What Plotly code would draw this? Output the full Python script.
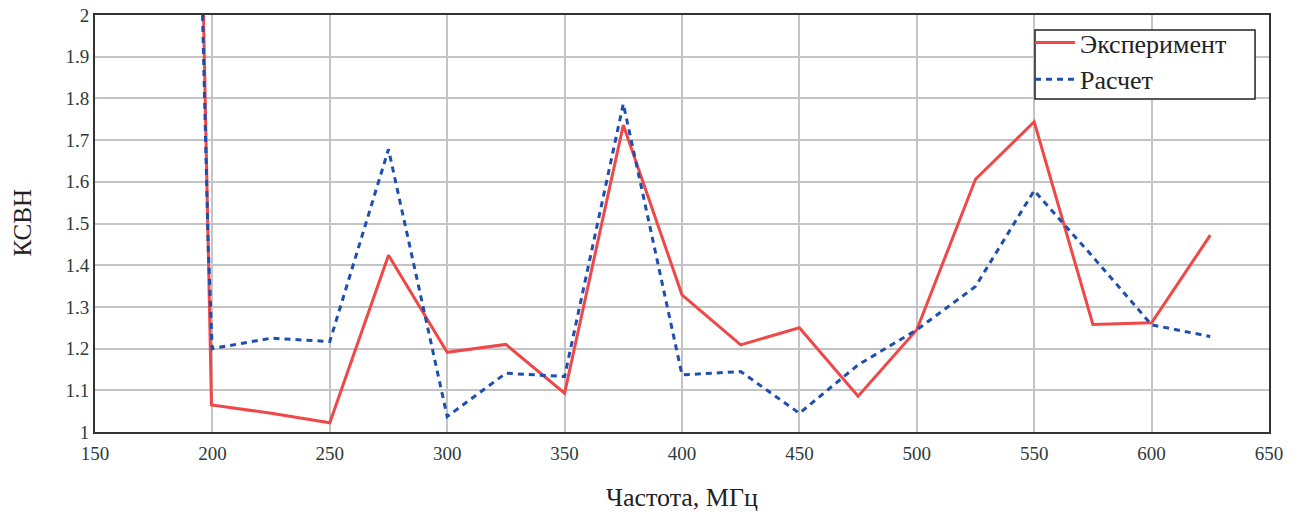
import plotly.graph_objects as go

# Experiment (red, solid)
exp_x = [196.2, 199.1, 199.6, 225, 250, 275, 300, 325, 350, 375, 400, 425, 450, 475, 500, 525, 550, 575, 600, 625]
exp_y = [2.0, 1.2, 1.065, 1.045, 1.022, 1.424, 1.191, 1.21, 1.093, 1.736, 1.329, 1.209, 1.25, 1.086, 1.245, 1.606, 1.744, 1.258, 1.262, 1.472]

# Calculation (blue, dashed)
calc_x = [195.8, 198.2, 199.9, 225, 250, 275, 300, 325, 350, 375, 400, 425, 450, 475, 500, 525, 550, 575, 600, 625]
calc_y = [2.0, 1.45, 1.2, 1.225, 1.217, 1.678, 1.037, 1.141, 1.133, 1.787, 1.137, 1.145, 1.045, 1.161, 1.245, 1.349, 1.579, 1.42, 1.257, 1.229]

x_ticks = [150, 200, 250, 300, 350, 400, 450, 500, 550, 600, 650]
y_ticks = [1.0, 1.1, 1.2, 1.3, 1.4, 1.5, 1.6, 1.7, 1.8, 1.9, 2.0]
y_tick_text = ["1", "1.1", "1.2", "1.3", "1.4", "1.5", "1.6", "1.7", "1.8", "1.9", "2"]

FONT = "Liberation Serif"
TICK_COLOR = "#2e3a3a"
TEXT_COLOR = "#222222"

fig = go.Figure()
fig.add_trace(go.Scatter(x=exp_x, y=exp_y, mode="lines", name="Эксперимент",
                         line=dict(color="#f04848", width=3)))
fig.add_trace(go.Scatter(x=calc_x, y=calc_y, mode="lines", name="Расчет",
                         line=dict(color="#1f4fae", width=3, dash="6px,5px")))

fig.update_layout(
    width=1301, height=515,
    margin=dict(l=95, r=32, t=15, b=83, autoexpand=False),
    paper_bgcolor="white", plot_bgcolor="white",
    font=dict(family=FONT, size=19, color=TICK_COLOR),
    showlegend=True,
    legend=dict(x=0.7964, y=0.9904, xanchor="left", yanchor="top",
                bgcolor="rgba(0,0,0,0)", borderwidth=0,
                font=dict(family=FONT, size=26, color=TEXT_COLOR),
                tracegroupgap=0, itemwidth=40),
    shapes=[
        dict(type="rect", xref="paper", yref="paper",
             x0=0.8007, x1=0.9881, y0=0.7986, y1=0.964,
             line=dict(color="#222222", width=1.5), fillcolor="white", layer="above"),
    ],
    xaxis=dict(range=[150, 650], tickvals=x_ticks, showgrid=True, automargin=False,
               gridcolor="#c4c4c4", gridwidth=1.5, zeroline=False,
               showline=True, linecolor="#333333", linewidth=2, mirror=True,
               ticks="", ticklabelstandoff=3,
               tickfont=dict(family=FONT, size=19, color=TICK_COLOR)),
    yaxis=dict(range=[1, 2], tickvals=y_ticks, ticktext=y_tick_text, showgrid=True, automargin=False,
               gridcolor="#c4c4c4", gridwidth=1.5, zeroline=False,
               showline=True, linecolor="#333333", linewidth=2, mirror=True,
               ticks="", tickfont=dict(family=FONT, size=19, color=TICK_COLOR)),
    annotations=[
        dict(text="Частота, МГц", xref="paper", yref="paper", x=0.5, y=0,
             xanchor="center", yanchor="middle", yshift=-65, showarrow=False,
             font=dict(family=FONT, size=26, color=TEXT_COLOR)),
        dict(text="КСВН", xref="paper", yref="paper", x=0, y=0.5,
             xanchor="center", yanchor="middle", xshift=-73, textangle=-90, showarrow=False,
             font=dict(family=FONT, size=25, color=TEXT_COLOR)),
    ],
)

fig.write_html("out.html")
